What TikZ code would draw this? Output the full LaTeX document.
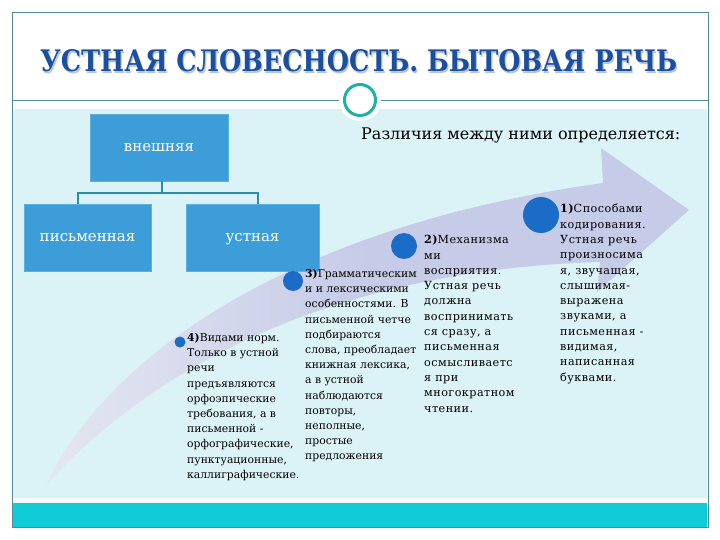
\documentclass[tikz,border=0pt]{standalone}
\usepackage{fontspec}
\usepackage{graphicx}
\setmainfont{DejaVu Serif}
\newfontfamily\widefont[LetterSpace=4]{DejaVu Serif}
\usetikzlibrary{calc}
\definecolor{framec}{HTML}{4F8C96}
\definecolor{bgc}{HTML}{DBF3F7}
\definecolor{bandc}{HTML}{10CCD6}
\definecolor{ringc}{HTML}{1FB0A6}
\definecolor{boxc}{HTML}{3D9DD8}
\definecolor{boxedge}{HTML}{5BB0E2}
\definecolor{linkc}{HTML}{2A8FA6}
\definecolor{arrc}{HTML}{C6CBE8}
\definecolor{arrtail}{HTML}{E4E7F0}
\definecolor{dotc}{HTML}{1A6CC6}
\definecolor{titlec}{HTML}{1C4F9E}
\definecolor{titleshadow}{HTML}{B4C4DE}
\begin{document}
\begin{tikzpicture}[x=1pt,y=-1pt,
  blockbox/.style={draw=boxedge,fill=boxc,line width=0.8pt,text=white,font=\fontsize{15}{18}\selectfont,inner sep=0pt,text height=11pt,text depth=3pt},
  notetext/.style={align=left,anchor=north west,inner sep=0pt,font=\fontsize{10.8}{15.2}\selectfont},
  widenote/.style={align=left,anchor=north west,inner sep=0pt,font=\widefont\fontsize{11.2}{15.3}\selectfont},
  markdot/.style={circle,fill=dotc,inner sep=0pt},
  link/.style={draw=linkc,line width=2.2pt}
]
\useasboundingbox (0,0) rectangle (720,540);
\fill[white] (0,0) rectangle (720,540);
% backgrounds
\fill[bgc] (13,109) rectangle (707,498);
\fill[white!70!bgc] (13,498) rectangle (707,503);
\fill[bandc] (13,503) rectangle (707,527);
\draw[framec,line width=0.8pt] (12,12) rectangle (708,527);
\draw[framec,line width=0.8pt] (12,100) -- (708,100);
% ring
\node[circle,fill=white,minimum size=42pt,inner sep=0pt] (halo) at (360,100) {};
\node[circle,draw=ringc,line width=3pt,fill=white,minimum size=31pt,inner sep=0pt] (ring) at (360,100) {};
% title
\node[anchor=base west,inner sep=0pt,text=titleshadow] (tshadow) at (41.2,73.2) {\resizebox{637pt}{22pt}{\bfseries УСТНАЯ СЛОВЕСНОСТЬ. БЫТОВАЯ РЕЧЬ}};
\node[anchor=base west,inner sep=0pt,text=titlec] (title) at (40,72) {\resizebox{637pt}{22pt}{\bfseries УСТНАЯ СЛОВЕСНОСТЬ. БЫТОВАЯ РЕЧЬ}};
% curved arrow
\shade[left color=arrtail,right color=arrc,middle color=arrc]
  (46,485) .. controls (110,350) and (300,225) .. (603,183)
  -- (601,148) -- (689,210) -- (597,292) -- (600,262)
  .. controls (330,270) and (150,370) .. (46,485) -- cycle;
% tree boxes
\node[blockbox,minimum width=138pt,minimum height=67pt] (vn) at (159,147.5) {внешняя};
\node[blockbox,minimum width=127pt,minimum height=67pt] (pis) at (87.5,237.5) {письменная};
\node[blockbox,minimum width=133pt,minimum height=67pt] (ust) at (252.5,237.5) {устная};
\draw[link] ($(vn.south)+(3,0)$) -- ++(0,12) coordinate (j);
\draw[link] ($(pis.north)+(-9.5,0)$) |- (j) -| ($(ust.north)+(5.5,0)$);
% heading
\node[anchor=base west,inner sep=0pt,font=\fontsize{16}{19}\selectfont] (head) at (361,140) {Различия между ними определяется:};
% dots
\node[markdot,minimum size=36pt] (d1) at (541,215) {};
\node[markdot,minimum size=26pt] (d2) at (404,246) {};
\node[markdot,minimum size=20pt] (d3) at (293,281) {};
\node[markdot,minimum size=11pt] (d4) at (180,342) {};
% texts
\node[widenote] (t1) at (560,204) {{\bfseries 1)}Способами\\кодирования.\\Устная речь\\произносима\\я, звучащая,\\слышимая-\\выражена\\звуками, а\\письменная -\\видимая,\\написанная\\буквами.};
\node[widenote] (t2) at (424,235) {{\bfseries 2)}Механизма\\ми\\восприятия.\\Устная речь\\должна\\воспринимать\\ся сразу, а\\письменная\\осмысливаетс\\я при\\многократном\\чтении.};
\node[notetext] (t3) at (305,269) {{\bfseries 3)}Грамматическим\\и и лексическими\\особенностями. В\\письменной четче\\подбираются\\слова, преобладает\\книжная лексика,\\а в устной\\наблюдаются\\повторы,\\неполные,\\простые\\предложения};
\node[notetext] (t4) at (187,333) {{\bfseries 4)}Видами норм.\\Только в устной\\речи\\предъявляются\\орфоэпические\\требования, а в\\письменной -\\орфографические,\\пунктуационные,\\каллиграфические.};
\end{tikzpicture}
\end{document}
